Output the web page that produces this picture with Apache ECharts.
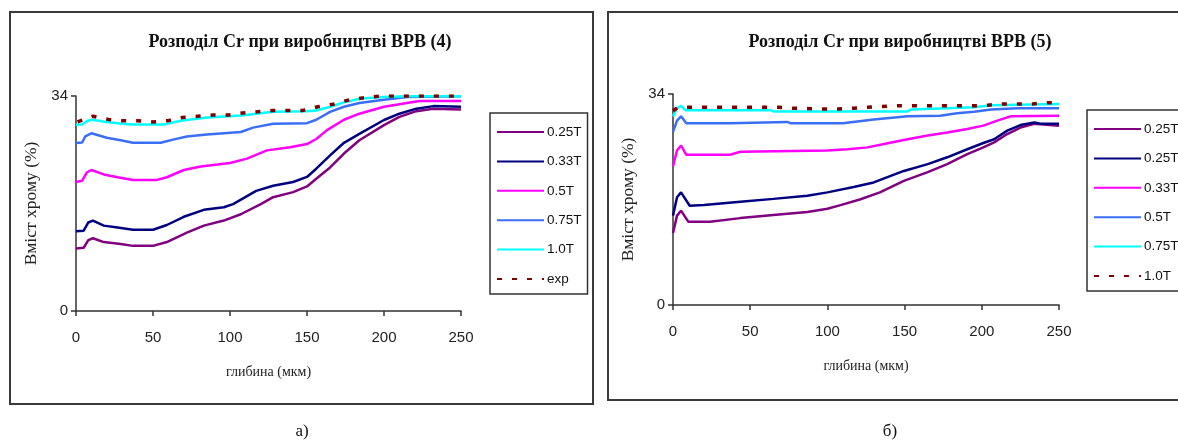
<!DOCTYPE html>
<html>
<head>
<meta charset="utf-8">
<script src="https://cdn.jsdelivr.net/npm/echarts@6/dist/echarts.min.js"></script>
<style>
  html, body { margin: 0; padding: 0; background: #fff; overflow: hidden; width: 1178px; height: 441px; }
  #chartA { position: absolute; left: 0; top: 0; width: 600px; height: 441px; }
  #chartB { position: absolute; left: 600px; top: 0; width: 600px; height: 441px; }
</style>
</head>
<body>
<div id="chartA"></div>
<div id="chartB"></div>
<script>
// ---- axis ticks ----
const yTicks = [0, 34];
const xTicks = [0, 50, 100, 150, 200, 250];

// ---- chart (4): Cr content vs depth, [depth µm, Cr %] ----
const labelsA = ['0.25T', '0.33T', '0.5T', '0.75T', '1.0T', 'exp'];
const a025 = [[0,9.9],[5,10.0],[8,11.2],[11,11.5],[18,10.9],[29,10.6],[37,10.3],[50,10.3],[59,10.9],[72,12.4],[83,13.5],[96,14.3],[107,15.3],[120,16.9],[128,18.0],[141,18.8],[150,19.7],[156,20.9],[165,22.7],[174,24.9],[184,27.0],[200,29.4],[210,30.7],[221,31.6],[232,32.0],[250,31.85]];
const a033 = [[0,12.6],[5,12.7],[8,14.0],[11,14.3],[18,13.5],[27,13.2],[37,12.85],[50,12.85],[59,13.6],[70,14.9],[83,16.0],[96,16.4],[102,16.9],[117,19.0],[128,19.8],[141,20.4],[150,21.2],[156,22.5],[165,24.6],[174,26.6],[184,28.0],[200,30.2],[210,31.2],[221,32.0],[232,32.4],[250,32.3]];
const a05  = [[0,20.4],[4,20.6],[7,21.9],[10,22.3],[18,21.6],[27,21.15],[37,20.7],[52,20.7],[59,21.15],[70,22.3],[81,22.85],[100,23.4],[111,24.1],[124,25.4],[139,25.9],[150,26.4],[156,27.2],[163,28.6],[174,30.25],[184,31.2],[200,32.3],[215,32.9],[223,33.2],[250,33.2]];
const a075 = [[0,26.55],[4,26.65],[6,27.6],[10,28.1],[20,27.4],[29,27.0],[37,26.6],[55,26.6],[63,27.1],[72,27.6],[85,27.9],[107,28.3],[115,29.0],[128,29.6],[150,29.7],[156,30.25],[165,31.5],[174,32.3],[184,32.9],[200,33.4],[215,33.85],[250,33.95]];
const a10  = [[0,29.45],[4,29.5],[7,30.0],[10,30.25],[20,29.9],[30,29.6],[37,29.5],[57,29.5],[68,30.1],[85,30.6],[107,30.9],[128,31.5],[150,31.6],[156,31.7],[165,32.3],[174,33.0],[185,33.6],[200,33.85],[215,33.95],[250,33.95]];
const aExp = [[1,29.9],[11,30.8],[21,30.3],[30,30.1],[40,30.1],[50,29.9],[60,30.1],[69,30.6],[79,30.8],[89,31.0],[99,31.0],[108,31.3],[118,31.5],[128,31.7],[137,31.7],[147,31.7],[157,32.3],[167,32.7],[176,33.3],[186,33.7],[196,33.95],[206,34.0],[215,34.0],[225,34.0],[235,34.0],[250,34.0]];

// ---- chart (5): Cr content vs depth, [depth µm, Cr %] ----
const labelsB = ['0.25T', '0.25T', '0.33T', '0.5T', '0.75T', '1.0T'];
const b025a = [[0,11.6],[2.6,14.4],[5.2,15.2],[10,13.4],[24,13.4],[43.6,14.0],[65,14.5],[87,15.0],[100,15.5],[108.5,16.1],[121,17.0],[134,18.15],[149.5,20.0],[165,21.4],[177.6,22.7],[190.6,24.3],[201,25.4],[208,26.2],[216.5,27.55],[225,28.6],[234,29.2],[250,28.9]];
const b025b = [[0,14.4],[2.6,17.35],[5.2,18.15],[10.8,16.0],[20,16.1],[43.6,16.65],[65,17.1],[87,17.6],[100,18.15],[117,19.0],[130,19.75],[149.5,21.6],[165,22.7],[177.6,23.8],[190.6,25.1],[201,26.1],[208,26.7],[216.5,28.1],[225,29.0],[234,29.4],[238,29.2],[250,29.2]];
const b033  = [[0,22.35],[2.6,24.9],[5.2,25.7],[8.6,24.2],[37,24.2],[43.6,24.7],[100,24.9],[113,25.1],[126,25.4],[139,26.05],[152,26.7],[165,27.3],[177.6,27.8],[190.6,28.35],[201,28.9],[210,29.7],[218.7,30.4],[250,30.5]];
const b05   = [[0,27.9],[2.6,29.7],[5.2,30.4],[8.6,29.3],[37,29.3],[38,29.5],[74,29.5],[76,29.3],[110,29.3],[130,29.9],[152,30.4],[173,30.5],[184,30.9],[195,31.15],[206,31.5],[223,31.7],[250,31.7]];
const b075  = [[0,30.4],[2.6,31.7],[5.2,32.1],[8,31.4],[63,31.4],[65,31.2],[152,31.2],[154,31.5],[195,31.85],[206,32.2],[250,32.4]];
const b10   = [[0,31.3],[3,31.8],[10,31.85],[68,31.85],[78,31.7],[97,31.6],[107,31.6],[117,31.7],[126,31.85],[146,32.1],[195,32.1],[204,32.2],[214,32.4],[233,32.4],[243,32.6],[250,32.6]];

const colors = ['#800080', '#000080', '#ff00ff', '#3a6ef5', '#00ffff', '#800000'];

const SERIF = '"Liberation Serif", "Times New Roman", serif';
const SANS = '"Liberation Sans", Arial, sans-serif';

function buildOption(cfg) {
  // series names get an index suffix so repeated labels stay distinct
  const names = cfg.labels.map((l, i) => l + '|' + i);
  const series = cfg.data.map((d, i) => ({
    name: names[i],
    type: 'line',
    data: d,
    symbol: 'none',
    silent: true,
    animation: false,
    z: i === 5 ? 3 : 2,
    lineStyle: i === 5
      ? { color: colors[i], width: 3.5, type: [5, 10], cap: 'butt' }
      : { color: colors[i], width: 2.5 },
    itemStyle: { color: colors[i] }
  }));
  return {
    animation: false,
    title: {
      text: cfg.title,
      left: 'center',
      top: cfg.titleTop,
      textStyle: { fontFamily: SERIF, fontWeight: 'bold', fontSize: 18, color: '#111' }
    },
    grid: { left: cfg.grid[0], top: cfg.grid[1], width: cfg.grid[2], height: cfg.grid[3], containLabel: false },
    xAxis: {
      type: 'value', min: xTicks[0], max: xTicks[xTicks.length - 1], interval: 50,
      name: 'глибина (мкм)', nameLocation: 'middle', nameGap: cfg.xNameGap,
      nameTextStyle: { fontFamily: SERIF, fontSize: 14, color: '#222' },
      axisLine: { lineStyle: { color: '#333', width: 1.5 } },
      axisTick: { show: true, inside: false, length: 5, lineStyle: { color: '#333', width: 1.5 } },
      axisLabel: { margin: 19, fontFamily: SANS, fontSize: 15, color: '#222' },
      splitLine: { show: false }
    },
    yAxis: {
      type: 'value', min: yTicks[0], max: yTicks[1], interval: 34,
      name: 'Вміст хрому (%)', nameLocation: 'middle', nameGap: cfg.yNameGap,
      nameTextStyle: { fontFamily: SERIF, fontSize: 17.5, color: '#222' },
      axisLine: { show: true, lineStyle: { color: '#333', width: 1.5 } },
      axisTick: { show: true, inside: false, length: 5, lineStyle: { color: '#333', width: 1.5 } },
      axisLabel: { margin: 8, fontFamily: SANS, fontSize: 15, color: '#222' },
      splitLine: { show: false }
    },
    legend: {
      orient: 'vertical',
      left: cfg.legendPos[0], top: cfg.legendPos[1],
      data: names,
      formatter: n => n.split('|')[0],
      itemWidth: 47, itemHeight: 14, itemGap: 15.4,
      padding: [12, 6, 8, 6],
      borderColor: '#333', borderWidth: 1.5, borderRadius: 0,
      selectedMode: false,
      itemStyle: { opacity: 0 },
      textStyle: { fontFamily: SANS, fontSize: 13.5, color: '#111', padding: [0, 0, 0, -2] }
    },
    graphic: [
      { type: 'rect', shape: { x: cfg.box[0], y: cfg.box[1], width: cfg.box[2], height: cfg.box[3] },
        style: { fill: 'none', stroke: '#3a3a3a', lineWidth: 2 }, silent: true, z: -1 },
      { type: 'text', x: cfg.caption[0], y: cfg.caption[1],
        style: { text: cfg.caption[2], font: '17px ' + SERIF, fill: '#111', textAlign: 'center', textVerticalAlign: 'middle' } }
    ],
    series: series
  };
}

const chartA = echarts.init(document.getElementById('chartA'), null, { renderer: 'canvas' });
chartA.setOption(buildOption({
  title: 'Розподіл Cr при виробництві BPB (4)',
  titleTop: 28,
  labels: labelsA,
  data: [a025, a033, a05, a075, a10, aExp],
  grid: [76, 96, 385, 215],
  xNameGap: 54,
  yNameGap: 27,
  legendPos: [490, 113],
  box: [10, 12, 583, 392],
  caption: [302, 432, 'а)']
}));

const chartB = echarts.init(document.getElementById('chartB'), null, { renderer: 'canvas' });
chartB.setOption(buildOption({
  title: 'Розподіл Cr при виробництві BPB (5)',
  titleTop: 28,
  labels: labelsB,
  data: [b025a, b025b, b033, b05, b075, b10],
  grid: [73, 94, 386, 211],
  xNameGap: 54,
  yNameGap: 26,
  legendPos: [487, 110],
  box: [8, 12, 620, 388],
  caption: [290, 432, 'б)']
}));
</script>
</body>
</html>
